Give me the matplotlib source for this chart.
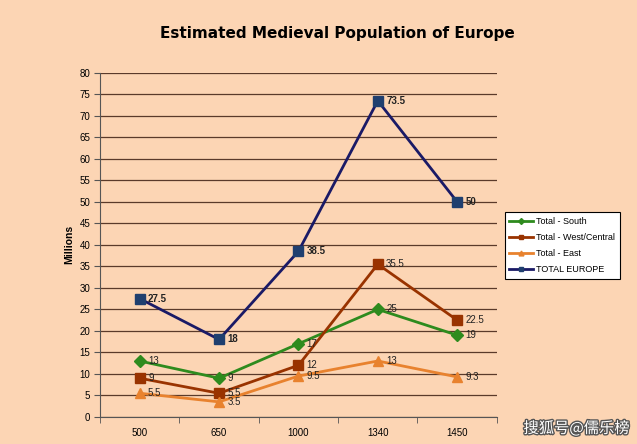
import matplotlib.pyplot as plt
import matplotlib.patheffects as pe

years = ['500', '650', '1000', '1340', '1450']
south = [13, 9, 17, 25, 19]
west = [9, 5.5, 12, 35.5, 22.5]
east = [5.5, 3.5, 9.5, 13, 9.3]
total = [27.5, 18, 38.5, 73.5, 50]

bg = '#FCD5B4'
plt.rcParams['font.family'] = ['Liberation Sans', 'DejaVu Sans']

fig = plt.figure(figsize=(6.37, 4.44), dpi=100, facecolor=bg)
ax = fig.add_axes([0.157, 0.061, 0.623, 0.775], facecolor=bg)

x = list(range(len(years)))
series = [
    ('Total - South', south, '#2E8B1E', 'D', 6, False),
    ('Total - West/Central', west, '#993300', 's', 7, False),
    ('Total - East', east, '#E8822E', '^', 7, False),
    ('TOTAL EUROPE', total, '#1A1A66', 's', 7, True),
]
for name, vals, col, mk, ms, bold in series:
    mcol = '#1F3F6F' if bold else col
    ax.plot(x, vals, color=col, lw=2, marker=mk, ms=ms, mfc=mcol, mec=mcol, label=name)
    for xi, v in zip(x, vals):
        lab = ('%g' % v)
        ax.annotate(lab, (xi, v), xytext=(6, 0), textcoords='offset points',
                    va='center', ha='left', fontsize=7,
                    fontweight='bold' if bold else 'normal', color='#222222')

ax.set_xlim(-0.5, 4.5)
ax.set_ylim(0, 80)
ax.set_yticks(range(0, 81, 5))
ax.set_xticks(x)
ax.set_xticklabels(years)
ax.set_xticks([i + 0.5 for i in range(-1, 5)], minor=True)
ax.tick_params(axis='x', which='major', length=0, pad=8, labelsize=7)
ax.tick_params(axis='x', which='minor', length=4, color='#555555')
ax.tick_params(axis='y', length=4, labelsize=7, color='#555555', pad=3)
ax.yaxis.grid(True, color='#5A3A2A', lw=0.9)
ax.set_axisbelow(True)
for s in ['top', 'right']:
    ax.spines[s].set_visible(False)
for s in ['left', 'bottom']:
    ax.spines[s].set_color('#555555')
ax.set_ylabel('Millions', fontsize=7.5, fontweight='bold', labelpad=4)

fig.text(0.53, 0.925, 'Estimated Medieval Population of Europe', ha='center',
         va='center', fontsize=11, fontweight='bold', family='DejaVu Sans')

leg = ax.legend(loc='upper left', bbox_to_anchor=(1.02, 0.595), fontsize=6.5,
                frameon=True, fancybox=False, edgecolor='black',
                facecolor='white', framealpha=1, handlelength=2.6,
                handletextpad=0.4, markerscale=0.5, borderpad=0.5,
                labelspacing=0.8, borderaxespad=0)
leg.get_frame().set_linewidth(0.8)

fig.text(0.905, 0.035, '搜狐号@儒乐榜', ha='center', va='center', fontsize=11,
         color='white', family=['Noto Sans CJK SC', 'DejaVu Sans'],
         path_effects=[pe.withStroke(linewidth=2, foreground='#555555')])

fig.savefig('out.png', dpi=100, facecolor=bg)
